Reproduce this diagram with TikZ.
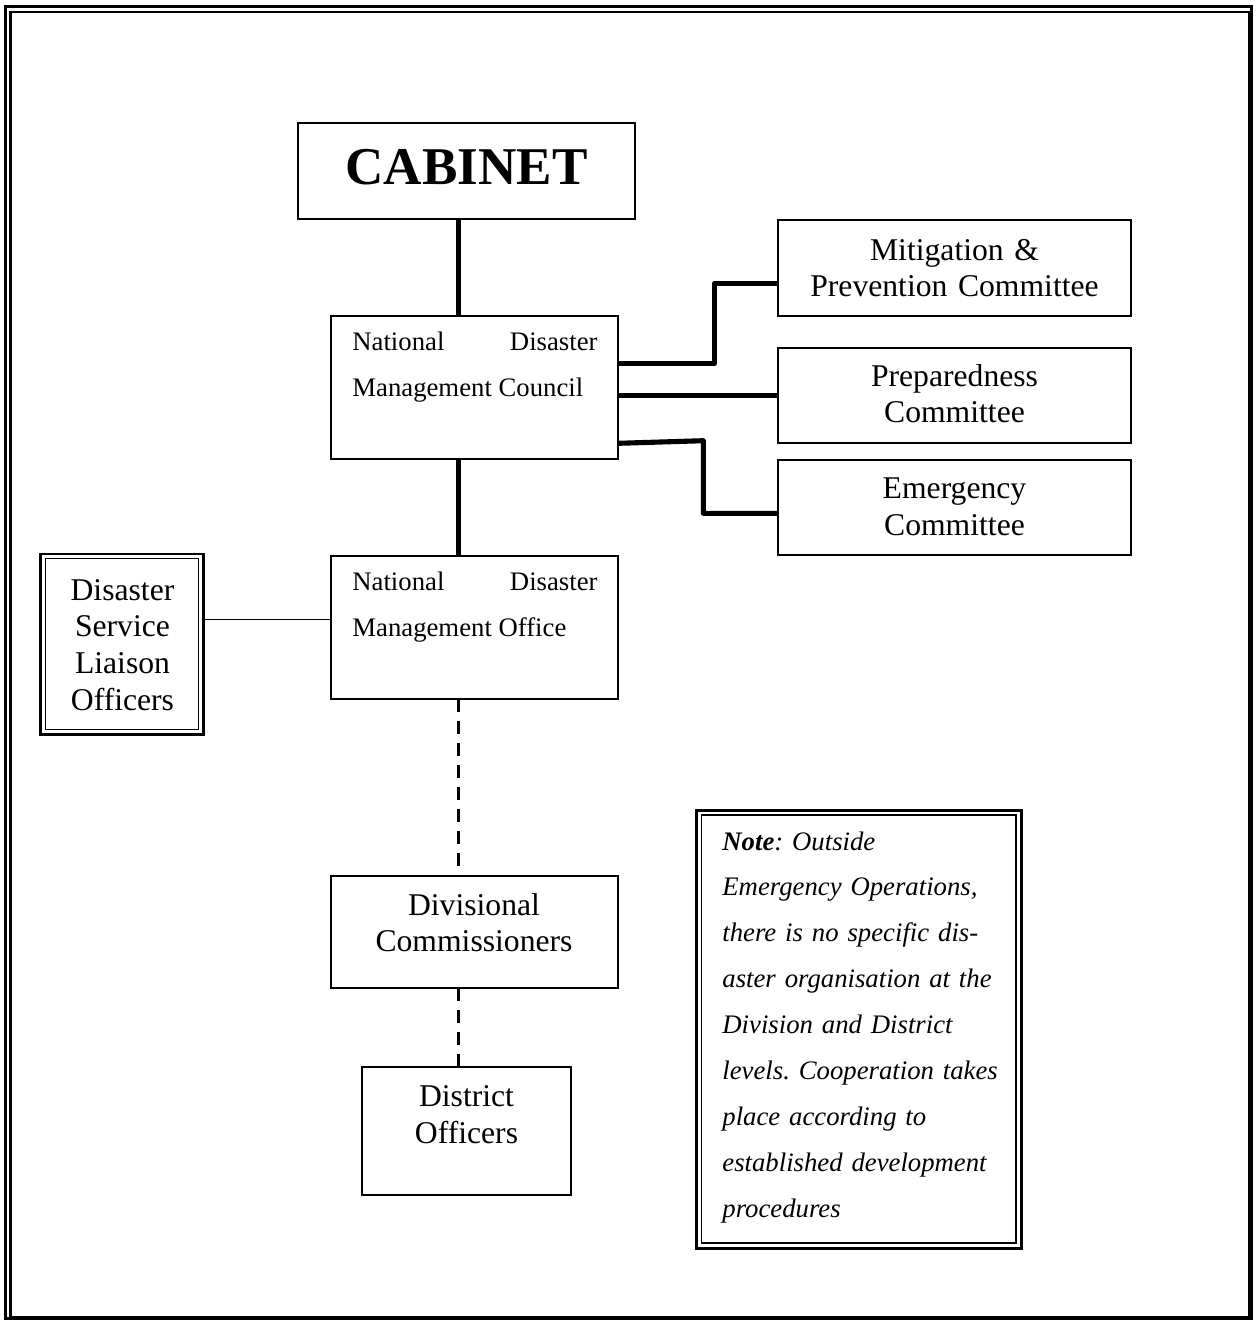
\documentclass[tikz,border=0pt]{standalone}
\usepackage{fontspec}
\setmainfont{Liberation Serif}
\usetikzlibrary{calc}
\usetikzlibrary{positioning}

\tikzset{
 box/.style={draw, line width=.57pt, inner sep=0pt, outer sep=0pt, anchor=north west},
 big/.style={font=\fontsize{9}{10.45}\selectfont, text width=3.4cm, align=center, inner sep=0pt, anchor=base},
 small/.style={font=\fontsize{7.6}{13.05}\selectfont\frenchspacing, inner sep=0pt, anchor=base west},
 link/.style={line width=1.45pt, line join=round},
 thinlink/.style={line width=.4pt},
 dashlink/.style={line width=.62pt, dash pattern=on .13cm off .09cm},
}

\begin{document}
\begin{tikzpicture}[x=.01cm, y=-.01cm]
\useasboundingbox (0,0) rectangle (1256,1321);
% page border
\draw[line width=.95pt] (5.7,6.8) rectangle (1251.5,1318.3);
\draw[line width=.68pt] (10.5,11.7) rectangle (1249.5,1316.7);

\coordinate (spine) at (458.5,0);

\node[box, minimum width=3.37cm, minimum height=.96cm] (cabinet) at (298,123.3) {};
\node[inner sep=0pt, anchor=base, font=\fontsize{15.1}{18}\selectfont\bfseries] (cabinet-t) at (466.5,184) {CABINET};

\node[box, minimum width=2.876cm, minimum height=1.433cm] (ndmc) at (330.7,316) {};
\node[small, text width=2.45cm, align=justify] (ndmc-t) at (351.7,350.7) {National\hfill Disaster\\Management Council};

\node[box, minimum width=2.876cm, minimum height=1.436cm] (ndmo) at (330.7,555.7) {};
\node[small, text width=2.45cm, align=justify] (ndmo-t) at (351.7,590.7) {National\hfill Disaster\\Management Office};

\foreach \n/\y/\h/\b/\t in {mitig/220/.96/260/{Mitigation \&\\Prevention Committee},
                          prep/347.7/.956/386/{Preparedness\\Committee},
                          emerg/460/.95/498.3/{Emergency\\Committee}} {
 \node[box, minimum width=3.524cm, minimum height=\h cm] (\n) at (778.3,\y) {};
 \node[big] (\n-t) at (954.5,\b) {\t};
}

\node[box, line width=.75pt, minimum width=1.626cm, minimum height=1.805cm] (dslo) at (40.7,554) {};
\draw[line width=.4pt] ([shift={(4.8,4.5)}]dslo.north west) rectangle ([shift={(-4.8,-5)}]dslo.south east);
\node[big, text width=1.5cm] (dslo-t) at (122.5,600) {Disaster\\Service\\Liaison\\Officers};

\node[box, minimum width=2.876cm, minimum height=1.12cm] (div) at (330.7,875.7) {};
\node[big] (div-t) at (474,915) {Divisional\\Commissioners};

\node[box, minimum width=2.084cm, minimum height=1.277cm] (dist) at (362.3,1067.3) {};
\node[big] (dist-t) at (466.5,1106.7) {District\\Officers};

\node[box, line width=.85pt, minimum width=3.25cm, minimum height=4.38cm] (note) at (696,810) {};
\draw[line width=.45pt] ([shift={(5.5,5)}]note.north west) rectangle ([shift={(-5,-5)}]note.south east);
\node[small, text width=2.9cm, align=left, font=\fontsize{7.6}{13.05}\selectfont\itshape\frenchspacing] (note-t) at (721.7,850) {\textbf{Note}: Outside\\Emergency Operations,\\there is no specific dis-\\aster organisation at the\\Division and District\\levels. Cooperation takes\\place according to\\established development\\procedures};

\draw[link] (cabinet.south -| spine) -- (ndmc.north -| spine);
\draw[link] (ndmc.south -| spine) -- (ndmo.north -| spine);
\draw[dashlink] (ndmo.south -| spine) -- (div.north -| spine);
\draw[dashlink] (div.south -| spine) -- (dist.north -| spine);
\draw[thinlink] (dslo.east |- 0,619.3) -- (ndmo.west |- 0,619.3);

\draw[link] (ndmc.east |- 0,363.3) -| (714.3,283.3) -- (mitig.west |- 0,283.3);
\draw[link] (ndmc.east |- prep.west) -- (prep.west);
\draw[link] (ndmc.east |- 0,443.3) -- (703.3,440.7) |- (emerg.west |- 0,513.3);
\end{tikzpicture}
\end{document}
